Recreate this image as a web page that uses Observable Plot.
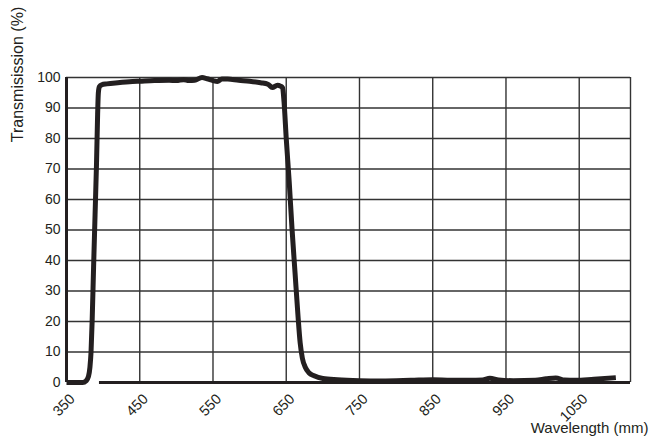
<!DOCTYPE html>
<html>
<head>
<meta charset="utf-8">
<script src="https://cdn.jsdelivr.net/npm/d3@7"></script>
<script src="https://cdn.jsdelivr.net/npm/@observablehq/plot@0.6"></script>
<style>
  html, body { margin: 0; padding: 0; background: #fff; }
  #chart svg { display: block; }
</style>
</head>
<body>
<div id="chart"></div>
<script>
// Wavelength (nm) and transmission (%)
const wavelength = [350, 372, 377, 380, 382, 383.5, 385, 387, 389, 391, 392.5, 393.5, 395, 398,
  405, 420, 440, 450, 470, 490, 500, 510, 517, 525, 535, 542, 550, 556, 562, 570, 585, 600, 615,
  625, 631, 638, 642, 645, 647, 650, 654, 658, 662, 666, 669, 672, 676, 681, 688, 700, 720, 750,
  780, 820, 850, 875, 900, 918, 928, 940, 960, 990, 1005, 1018, 1030, 1045, 1070, 1100];
const transmission = [0, 0, 0.6, 2, 5, 10, 20, 38, 55, 72, 88, 95, 97, 97.6,
  97.9, 98.3, 98.7, 98.8, 99.0, 99.1, 99.0, 99.3, 99.0, 99.1, 100.0, 99.6, 99.0, 98.7, 99.5, 99.5, 99.1, 98.8, 98.3,
  97.8, 96.7, 97.5, 97.2, 96.6, 92, 80, 66, 50, 36, 22, 13, 8, 5, 3.2, 2.2, 1.3, 0.9, 0.6,
  0.5, 0.7, 0.9, 0.7, 0.7, 0.8, 1.4, 0.8, 0.6, 0.7, 1.2, 1.5, 0.8, 0.7, 1.1, 1.6];

const xTicks = [350, 450, 550, 650, 750, 850, 950, 1050];
const xGrid = [450, 550, 650, 750, 850, 950, 1050, 1120];
const yTicks = [0, 10, 20, 30, 40, 50, 60, 70, 80, 90, 100];
const xDomain = [350, 1120];
const xAxisStart = 395;
const yLabel = "Transmisission (%)";
const xLabel = "Wavelength (mm)";

const data = wavelength.map((w, i) => ({wl: w, t: transmission[i]}));
const ink = "#231f20";
const gridColor = "#333333";

const chart = Plot.plot({
  width: 651,
  height: 441,
  marginLeft: 66,
  marginRight: 21,
  marginTop: 77,
  marginBottom: 59,
  style: {fontFamily: "'Liberation Sans', Arial, sans-serif", fontSize: "14px", background: "#fff", color: ink},
  x: {domain: xDomain},
  y: {domain: [0, 100]},
  marks: [
    Plot.ruleY(yTicks.filter(d => d > 0), {stroke: gridColor, strokeWidth: 1.4}),
    Plot.ruleX(xGrid, {stroke: gridColor, strokeWidth: 1.4}),
    Plot.ruleX([xDomain[0]], {stroke: ink, strokeWidth: 3}),
    Plot.ruleY([0], {x1: xAxisStart, x2: xDomain[1], stroke: ink, strokeWidth: 3}),
    Plot.axisY(yTicks, {tickSize: 0, tickPadding: 6, fontSize: 14, label: null, fill: ink}),
    Plot.axisX(xTicks, {tickSize: 0, tickPadding: 14, tickRotate: -45, dx: 6, fontSize: 14.5, label: null, fill: ink, tickFormat: d => String(d)}),
    Plot.line(data, {x: "wl", y: "t", curve: "monotone-x", stroke: ink, strokeWidth: 5, strokeLinejoin: "round", strokeLinecap: "butt"}),
    Plot.text([yLabel], {frameAnchor: "top-left", rotate: -90, textAnchor: "middle", dx: -55, dy: -3, fontSize: 16, fill: ink}),
    Plot.text([xLabel], {frameAnchor: "bottom-right", textAnchor: "end", dx: 18, dy: 50, fontSize: 15, fill: ink})
  ]
});
document.getElementById("chart").appendChild(chart);
</script>
</body>
</html>
